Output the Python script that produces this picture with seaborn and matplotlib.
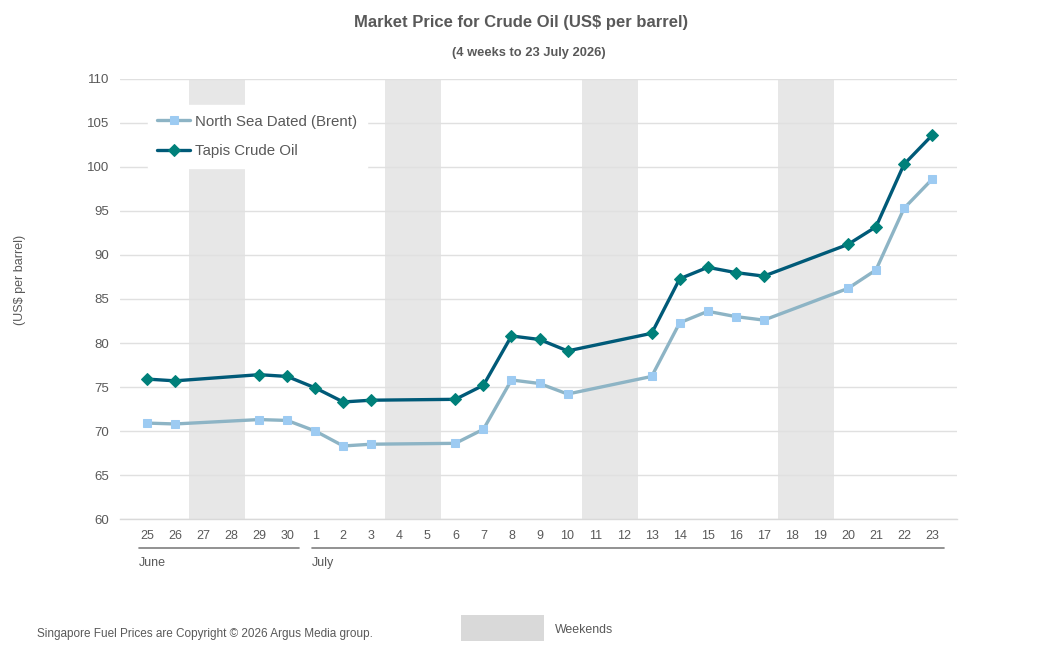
import matplotlib
matplotlib.use("Agg")
import matplotlib.pyplot as plt
import matplotlib.transforms as mtransforms
from matplotlib.patches import Rectangle
import seaborn as sns
import pandas as pd
import numpy as np

# ---- data ----
days = ["25", "26", "27", "28", "29", "30", "1", "2", "3", "4", "5", "6", "7", "8", "9",
        "10", "11", "12", "13", "14", "15", "16", "17", "18", "19", "20", "21", "22", "23"]
months = ["June", "July"]
month_counts = [6, 23]
weekend = [False, False, True, True, False, False, False, False, False, True, True, False,
           False, False, False, False, True, True, False, False, False, False, False, True,
           True, False, False, False, False]
brent = [70.9, 70.8, None, None, 71.3, 71.2, 70.0, 68.3, 68.5, None, None, 68.6, 70.2, 75.8,
         75.4, 74.2, None, None, 76.2, 82.3, 83.6, 83.0, 82.6, None, None, 86.2, 88.3, 95.3, 98.6]
tapis = [75.9, 75.7, None, None, 76.4, 76.2, 74.9, 73.3, 73.5, None, None, 73.6, 75.2, 80.8,
         80.4, 79.1, None, None, 81.1, 87.3, 88.6, 88.0, 87.6, None, None, 91.2, 93.2, 100.3, 103.6]
series_names = ["North Sea Dated (Brent)", "Tapis Crude Oil"]

sns.set_theme(style="white")
plt.rcParams["font.family"] = ["Liberation Sans", "DejaVu Sans"]

grey_txt = "#595959"
fig = plt.figure(figsize=(10.44, 6.62), dpi=100)
ax = fig.add_axes([120 / 1044, 1 - 519 / 662, (957 - 120) / 1044, 440 / 662])

pos = np.arange(len(days))
df = pd.DataFrame({"pos": pos, "brent": brent, "tapis": tapis, "weekend": weekend})

# weekend shading
for i, w in enumerate(weekend):
    if w and (i == 0 or not weekend[i - 1]):
        j = i
        while j + 1 < len(weekend) and weekend[j + 1]:
            j += 1
        ax.axvspan(i - 0.5, j + 0.5, color="#E7E7E7", zorder=0, lw=0)

ax.set_ylim(60, 110)
ax.set_yticks(np.arange(60, 111, 5))
ax.set_xlim(-0.963, 28.89)
ax.grid(axis="y", color="#E0E0E0", lw=1, zorder=1)
ax.set_axisbelow(False)

db = df.dropna(subset=["brent"])
dt = df.dropna(subset=["tapis"])
sns.lineplot(data=db, x="pos", y="brent", ax=ax, color="#8DB4C5", lw=2.4,
             marker="s", markersize=6, markerfacecolor="#9DCBF2", markeredgecolor="#9DCBF2",
             label=series_names[0], zorder=3)
sns.lineplot(data=dt, x="pos", y="tapis", ax=ax, color="#005A78", lw=2.4,
             marker="D", markersize=6, markerfacecolor="#00807A", markeredgecolor="#00807A",
             label=series_names[1], zorder=4)

ax.set_xticks(pos)
ax.set_xticklabels(days, color=grey_txt, fontsize=9)
ax.tick_params(axis="x", length=0, pad=8)
ax.tick_params(axis="y", length=0, pad=8, labelcolor=grey_txt, labelsize=9.5)
ax.set_xlabel("")
ax.set_ylabel("")
for s in ["left", "right", "top"]:
    ax.spines[s].set_visible(False)
ax.spines["bottom"].set_color("#D9D9D9")
ax.spines["bottom"].set_linewidth(1)

# month group lines / labels
trans = mtransforms.blended_transform_factory(ax.transData, ax.transAxes)
start = 0
for k, (m, c) in enumerate(zip(months, month_counts)):
    end = start + c - 1
    x0 = start - (0.29 if k == 0 else 0.115)
    x1 = end + 0.43
    ax.plot([x0, x1], [-0.066, -0.066], transform=trans, color="#7F7F7F", lw=1.2, clip_on=False)
    ax.text(x0, -0.1, m, transform=trans, ha="left", va="center", color=grey_txt, fontsize=9)
    start = end + 1

leg = ax.legend(loc="upper left", bbox_to_anchor=(0.024, 0.958), frameon=True,
                fontsize=10.8, handlelength=2.2, handletextpad=0.3, labelspacing=1.05,
                borderpad=0.65, labelcolor=grey_txt)
leg.get_frame().set_facecolor("white")
leg.get_frame().set_edgecolor("white")
leg.get_frame().set_alpha(1)
leg.get_frame().set_boxstyle("square", pad=0)

# titles
fig.text(0.499, 1 - 22 / 662, "Market Price for Crude Oil (US$ per barrel)", ha="center", va="center",
         fontsize=12, fontweight="bold", color=grey_txt)
fig.text(529 / 1044, 1 - 53 / 662, "(4 weeks to 23 July 2026)", ha="center", va="center",
         fontsize=9.3, fontweight="bold", color=grey_txt)
fig.text(20 / 1044, 1 - 280 / 662, "(US$ per barrel)", rotation=90, ha="center", va="center",
         fontsize=9, color=grey_txt)

# footer
fig.text(37 / 1044, 1 - 634 / 662, "Singapore Fuel Prices are Copyright \u00a9 2026 Argus Media group.",
         ha="left", va="center", fontsize=8.5, color=grey_txt)
fig.patches.append(Rectangle((461 / 1044, 1 - 641 / 662), 83 / 1044, 26 / 662,
                             transform=fig.transFigure, color="#D9D9D9", lw=0))
fig.text(555 / 1044, 1 - 630 / 662, "Weekends", ha="left", va="center", fontsize=8.9, color=grey_txt)

fig.savefig("out.png", dpi=100)
